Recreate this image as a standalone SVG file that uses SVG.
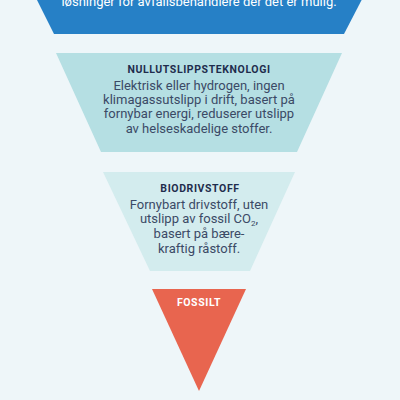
<svg xmlns="http://www.w3.org/2000/svg" width="400" height="400" viewBox="0 0 400 400">
<style>
.t{font-family:Roboto,"Liberation Sans",sans-serif;text-anchor:middle}
.h{font-weight:bold;font-size:10.5px;fill:#1f2d4d;letter-spacing:0.6px}
.b{font-size:13px;fill:#3b4a66}
</style>
<rect width="400" height="400" fill="#eef6f9"/>
<g id="top">
<polygon points="27,-20 372,-20 344,34 54,34" fill="#2680c6"/>
<text class="t" x="199" y="6" font-size="13" fill="#ffffff">løsninger for avfallsbehandlere der det er mulig.</text>
</g>
<g id="nullutslipp">
<polygon points="56,53 342,53 297,152 101,152" fill="#b5dfe3"/>
<text class="t h" x="199" y="73">NULLUTSLIPPSTEKNOLOGI</text>
<text class="t b" x="199" y="90">Elektrisk eller hydrogen, ingen</text>
<text class="t b" x="199" y="104">klimagassutslipp i drift, basert på</text>
<text class="t b" x="199" y="118">fornybar energi, reduserer utslipp</text>
<text class="t b" x="199" y="133">av helseskadelige stoffer.</text>
</g>
<g id="bio">
<polygon points="103,172 295,172 250,271 150,271" fill="#d3ecee"/>
<text class="t h" x="200" y="192">BIODRIVSTOFF</text>
<text class="t b" x="199" y="209">Fornybart drivstoff, uten</text>
<text class="t b" x="199" y="223">utslipp av fossil CO<tspan font-size="8" dy="3">2</tspan><tspan dy="-3">,</tspan></text>
<text class="t b" x="199" y="238">basert på bære-</text>
<text class="t b" x="199" y="253">kraftig råstoff.</text>
</g>
<g id="fossilt">
<polygon points="152,289 246,289 199,391" fill="#e8654f"/>
<text class="t" x="199" y="306" font-size="10.5" font-weight="bold" fill="#ffffff" letter-spacing="0.6">FOSSILT</text>
</g>
<g id="connectors"/>
</svg>
